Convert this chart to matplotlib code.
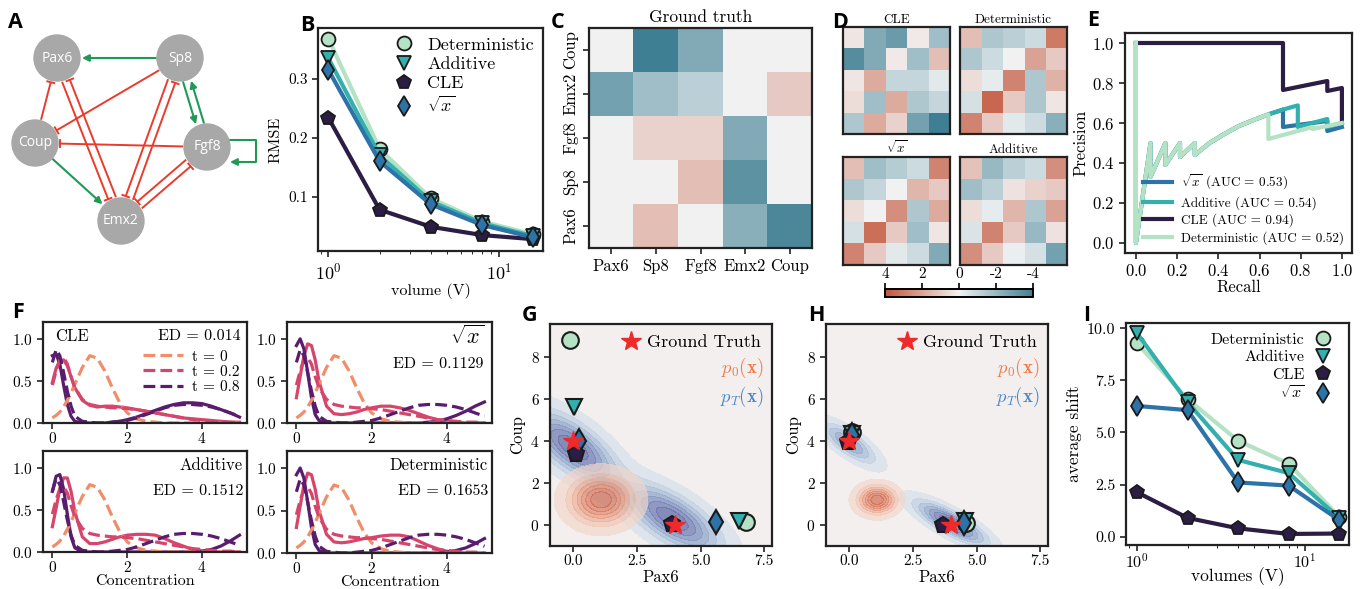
import numpy as np
import matplotlib
matplotlib.use("Agg")
import matplotlib.pyplot as plt
import seaborn as sns
from matplotlib.lines import Line2D

plt.rcParams['font.family'] = 'serif'
plt.rcParams['font.serif'] = ['cmr10']
plt.rcParams['mathtext.fontset'] = 'cm'
plt.rcParams['axes.formatter.use_mathtext'] = True
plt.rcParams['axes.unicode_minus'] = False

W, H = 1365, 589

# ---------------- data ----------------
methods = ['Deterministic', 'Additive', 'CLE', 'sqrt']
labels = {'Deterministic': 'Deterministic', 'Additive': 'Additive', 'CLE': 'CLE', 'sqrt': r'$\sqrt{x}$'}
colors = {'Deterministic': '#b5e2c4', 'Additive': '#33b0ad', 'CLE': '#2c1d45', 'sqrt': '#2d73a8'}
markers = {'Deterministic': 'o', 'Additive': 'v', 'CLE': 'p', 'sqrt': 'd'}

# panel A network
node_names = ['Pax6', 'Sp8', 'Coup', 'Fgf8', 'Emx2']
node_x = [57, 180, 35, 207, 121]
node_y = [58, 58, 143, 147, 221]
act_edges = [('Sp8', 'Pax6', 0), ('Sp8', 'Fgf8', 4), ('Fgf8', 'Sp8', 4), ('Coup', 'Emx2', 0)]
inh_edges = [('Coup', 'Pax6', 0), ('Emx2', 'Pax6', 4), ('Pax6', 'Emx2', 4), ('Sp8', 'Coup', 0),
             ('Fgf8', 'Coup', 0), ('Sp8', 'Emx2', 4), ('Emx2', 'Sp8', 4), ('Fgf8', 'Emx2', 4),
             ('Emx2', 'Fgf8', 4)]

# panel B: RMSE vs volume
volumes = [1, 2, 4, 8, 16]
rmse = {
    'Deterministic': [0.368, 0.181, 0.097, 0.058, 0.036],
    'Additive': [0.335, 0.170, 0.092, 0.055, 0.033],
    'CLE': [0.234, 0.078, 0.049, 0.035, 0.028],
    'sqrt': [0.315, 0.160, 0.087, 0.052, 0.031],
}

# panel C: ground truth interaction matrix (rows bottom->top)
genes = ['Pax6', 'Sp8', 'Fgf8', 'Emx2', 'Coup']
gt_matrix = [
    [0.0, 1.3, 0.0, -2.3, -3.7],
    [0.0, 0.0, 1.3, -3.3, 0.0],
    [0.0, 0.8, 0.8, -2.5, 0.0],
    [-2.8, -1.8, -1.2, 0.0, 1.0],
    [0.0, -4.0, -2.5, 0.0, 0.0],
]

# panel D: inferred matrices (rows top->bottom)
inferred = {
    'CLE': [[0.3, -2.5, -3.0, 0.2, -1.8],
            [-3.5, -2.5, 0.2, -1.8, 1.3],
            [0.3, 1.8, -1.0, -1.0, -0.3],
            [0.5, -1.8, 1.8, -1.5, -1.0],
            [-1.5, 1.8, 0.8, -2.8, -4.0]],
    'Deterministic': [[1.3, -1.5, -1.2, -0.8, 3.0],
                      [-1.5, -0.8, 0.0, 2.0, 1.0],
                      [0.5, -0.2, 2.8, -1.5, 1.6],
                      [-0.6, 3.5, 1.0, -1.5, 0.3],
                      [2.8, 1.0, -0.3, -0.8, -2.3]],
    'sqrt': [[1.3, -1.8, -1.3, -0.8, 2.8],
             [-1.5, -1.0, 0.0, 1.5, 1.0],
             [0.5, 0.0, 2.5, -1.5, 1.8],
             [-0.6, 3.3, 1.0, -1.8, 0.3],
             [2.8, 1.0, -0.3, -0.8, -2.5]],
    'Additive': [[1.2, -2.0, -1.2, -0.8, 2.5],
                 [-1.8, -1.2, 0.4, 0.8, 1.0],
                 [0.5, -0.2, 1.5, -1.5, 2.0],
                 [-0.5, 2.8, 1.0, -2.0, 0.4],
                 [2.5, 1.0, -0.1, -0.6, -2.8]],
}

# panel E: precision-recall curves
pr_recall = {
    'sqrt': [0.0, 0.0, 0.071, 0.071, 0.143, 0.143, 0.214, 0.214, 0.286, 0.286, 0.357, 0.429, 0.5, 0.571,
             0.643, 0.714, 0.714, 0.786, 0.857, 0.929, 0.929, 1.0],
    'Additive': [0.0, 0.0, 0.071, 0.071, 0.143, 0.143, 0.214, 0.214, 0.286, 0.286, 0.357, 0.429, 0.5, 0.571,
                 0.643, 0.714, 0.786, 0.786, 0.857, 0.929, 0.929, 1.0],
    'CLE': [0.0, 0.714, 0.714, 0.929, 0.929, 1.0, 1.0],
    'Deterministic': [0.0, 0.0, 0.071, 0.071, 0.143, 0.143, 0.214, 0.214, 0.286, 0.286, 0.357, 0.429, 0.5,
                      0.571, 0.643, 0.643, 0.714, 0.786, 0.857, 0.857, 0.929, 1.0],
}
pr_precision = {
    'sqrt': [1.0, 0.0, 0.5, 0.33, 0.5, 0.39, 0.5, 0.43, 0.5, 0.44, 0.5, 0.545, 0.585, 0.615,
             0.643, 0.667, 0.58, 0.59, 0.60, 0.61, 0.56, 0.58],
    'Additive': [1.0, 0.0, 0.5, 0.33, 0.5, 0.39, 0.5, 0.43, 0.5, 0.44, 0.5, 0.545, 0.585, 0.615,
                 0.643, 0.667, 0.688, 0.58, 0.60, 0.62, 0.58, 0.60],
    'CLE': [1.0, 1.0, 0.765, 0.81, 0.76, 0.775, 0.60],
    'Deterministic': [1.0, 0.0, 0.5, 0.33, 0.5, 0.39, 0.5, 0.43, 0.5, 0.44, 0.5, 0.545, 0.585, 0.615,
                      0.643, 0.52, 0.54, 0.56, 0.58, 0.57, 0.585, 0.60],
}
pr_auc = {'sqrt': 0.53, 'Additive': 0.54, 'CLE': 0.94, 'Deterministic': 0.52}

# panel F: concentration densities
conc = [0.0, 0.1, 0.2, 0.3, 0.4, 0.5, 0.6, 0.8, 1.0, 1.2, 1.4, 1.6, 1.8, 2.0, 2.25, 2.5, 2.75,
        3.0, 3.25, 3.5, 3.75, 4.0, 4.25, 4.5, 4.75, 5.0]
dens_t0 = [0.06, 0.09, 0.13, 0.19, 0.27, 0.36, 0.46, 0.66, 0.80, 0.77, 0.62, 0.42, 0.24, 0.12, 0.05,
           0.02, 0.01, 0.0, 0.0, 0.0, 0.0, 0.0, 0.0, 0.0, 0.0, 0.0]
dens_t02 = [0.45, 0.62, 0.75, 0.78, 0.70, 0.55, 0.42, 0.28, 0.22, 0.20, 0.19, 0.18, 0.18, 0.17, 0.16,
            0.14, 0.12, 0.10, 0.08, 0.06, 0.04, 0.03, 0.02, 0.01, 0.01, 0.0]
dens_t08 = [0.72, 0.87, 0.80, 0.60, 0.38, 0.20, 0.08, 0.02, 0.01, 0.0, 0.0, 0.01, 0.02, 0.03, 0.06,
            0.10, 0.14, 0.18, 0.21, 0.22, 0.22, 0.21, 0.19, 0.16, 0.12, 0.08]
pred_t02 = {
    'CLE': [0.48, 0.65, 0.74, 0.75, 0.68, 0.55, 0.42, 0.27, 0.21, 0.19, 0.20, 0.20, 0.19, 0.18, 0.16,
            0.14, 0.12, 0.10, 0.08, 0.06, 0.05, 0.04, 0.03, 0.02, 0.01, 0.01],
    'sqrt': [0.30, 0.55, 0.80, 0.94, 0.92, 0.75, 0.50, 0.20, 0.11, 0.10, 0.11, 0.13, 0.16, 0.18, 0.20,
             0.20, 0.18, 0.15, 0.11, 0.07, 0.04, 0.02, 0.01, 0.0, 0.0, 0.0],
    'Additive': [0.30, 0.52, 0.75, 0.88, 0.88, 0.72, 0.48, 0.18, 0.10, 0.10, 0.12, 0.15, 0.18, 0.20, 0.21,
                 0.21, 0.20, 0.16, 0.11, 0.07, 0.03, 0.01, 0.0, 0.0, 0.0, 0.0],
    'Deterministic': [0.30, 0.55, 0.80, 0.94, 0.92, 0.75, 0.50, 0.22, 0.13, 0.12, 0.13, 0.15, 0.17, 0.18,
                      0.20, 0.21, 0.21, 0.19, 0.14, 0.09, 0.05, 0.02, 0.01, 0.0, 0.0, 0.0],
}
pred_t08 = {
    'CLE': [0.80, 0.82, 0.70, 0.45, 0.22, 0.08, 0.02, 0.0, 0.0, 0.0, 0.0, 0.01, 0.02, 0.04, 0.07,
            0.11, 0.15, 0.19, 0.22, 0.24, 0.24, 0.23, 0.20, 0.16, 0.12, 0.07],
    'sqrt': [0.92, 1.0, 0.88, 0.60, 0.30, 0.10, 0.03, 0.0, 0.0, 0.0, 0.0, 0.0, 0.0, 0.0, 0.0,
             0.0, 0.0, 0.0, 0.0, 0.01, 0.02, 0.05, 0.09, 0.14, 0.20, 0.25],
    'Additive': [0.72, 0.90, 0.92, 0.75, 0.45, 0.18, 0.05, 0.0, 0.0, 0.0, 0.0, 0.0, 0.0, 0.0, 0.0,
                 0.0, 0.0, 0.0, 0.0, 0.0, 0.0, 0.01, 0.03, 0.07, 0.13, 0.20],
    'Deterministic': [0.92, 1.0, 0.88, 0.60, 0.30, 0.10, 0.03, 0.0, 0.0, 0.0, 0.0, 0.0, 0.0, 0.0, 0.0,
                      0.0, 0.0, 0.0, 0.0, 0.0, 0.0, 0.01, 0.03, 0.06, 0.11, 0.17],
}
energy_dist = {'CLE': '0.014', 'sqrt': '0.1129', 'Additive': '0.1512', 'Deterministic': '0.1653'}

# panels G/H: fixed points and densities (Pax6, Coup)
gt_pax6 = [0.0, 4.0]
gt_coup = [4.0, 0.0]
g_pax6 = {'Deterministic': [-0.1, 6.8], 'Additive': [0.05, 6.5], 'CLE': [0.1, 3.9], 'sqrt': [0.25, 5.6]}
g_coup = {'Deterministic': [8.8, 0.15], 'Additive': [5.6, 0.2], 'CLE': [3.4, 0.05], 'sqrt': [4.0, 0.15]}
h_pax6 = {'Deterministic': [0.1, 4.6], 'Additive': [0.1, 4.55], 'CLE': [-0.05, 3.7], 'sqrt': [0.1, 4.5]}
h_coup = {'Deterministic': [4.45, 0.1], 'Additive': [4.35, 0.2], 'CLE': [3.95, 0.0], 'sqrt': [4.3, 0.1]}
# gaussian components: mean x, mean y, sd major, sd minor, angle (deg), weight
g_p0 = [(1.1, 1.2, 0.75, 0.7, 0, 1.0)]
g_pT = [(0.0, 3.7, 1.4, 0.6, -45, 0.5), (3.9, 0.3, 1.4, 0.6, -40, 0.5)]
h_p0 = [(1.1, 1.2, 0.45, 0.4, 0, 1.0)]
h_pT = [(0.0, 3.9, 0.85, 0.3, -42, 0.35), (4.0, 0.1, 1.0, 0.3, -35, 0.65)]

# panel I: average shift
shift = {
    'Deterministic': [9.28, 6.6, 4.6, 3.5, 0.95],
    'Additive': [9.76, 6.45, 3.68, 3.05, 0.9],
    'CLE': [2.13, 0.9, 0.4, 0.13, 0.15],
    'sqrt': [6.27, 6.07, 2.6, 2.45, 0.8],
}

# ---------------- helpers ----------------
fig = plt.figure(figsize=(W / 100, H / 100), dpi=100)


def px_axes(l, t, r, b, **kw):
    return fig.add_axes([l / W, 1 - b / H, (r - l) / W, (b - t) / H], **kw)


def style(ax, labelsize=10):
    for s in ax.spines.values():
        s.set_linewidth(1.6)
        s.set_color('#222222')
    ax.tick_params(direction='out', length=4, width=1.2, labelsize=labelsize, color='#222222')


def gauss_mix(xx, yy, comps):
    z = np.zeros_like(xx)
    for mx, my, s1, s2, ang, w in comps:
        a = np.deg2rad(ang)
        dx, dy = xx - mx, yy - my
        u = dx * np.cos(a) + dy * np.sin(a)
        v = -dx * np.sin(a) + dy * np.cos(a)
        z += w * np.exp(-0.5 * ((u / s1) ** 2 + (v / s2) ** 2)) / (s1 * s2)
    return z


def letter(x, y, s):
    fig.text(x / W, 1 - y / H, s, fontsize=15.5, fontweight='bold', family='Open Sans', va='top', ha='left')


cmap = sns.diverging_palette(220, 20, as_cmap=True)
mk = dict(mec='#1a1a1a', mew=1.3)

# ---------------- A: network ----------------
axA = px_axes(0, 0, 260, 290)
axA.set_xlim(0, 260)
axA.set_ylim(290, 0)
axA.axis('off')
R = 23
pos = {n: np.array([x, y], float) for n, x, y in zip(node_names, node_x, node_y)}
green, red = '#1f9a55', '#ec3a2c'


def edge_ends(a, b, off):
    ca, cb = pos[a], pos[b]
    u = (cb - ca) / np.linalg.norm(cb - ca)
    n = np.array([-u[1], u[0]])
    return ca + u * (R + 1) + n * off, cb - u * (R + 2) + n * off, n


for a, b, off in act_edges:
    p0, p1, n = edge_ends(a, b, off)
    axA.annotate('', xy=p1, xytext=p0,
                 arrowprops=dict(arrowstyle='-|>', color=green, lw=1.5, mutation_scale=10,
                                 shrinkA=0, shrinkB=0))
for a, b, off in inh_edges:
    p0, p1, n = edge_ends(a, b, off)
    axA.plot([p0[0], p1[0]], [p0[1], p1[1]], color=red, lw=1.4, solid_capstyle='butt')
    axA.plot([p1[0] - n[0] * 3.5, p1[0] + n[0] * 3.5], [p1[1] - n[1] * 3.5, p1[1] + n[1] * 3.5],
             color=red, lw=1.4)
# Fgf8 self loop
fx, fy = pos['Fgf8']
axA.plot([fx + 22, fx + 49, fx + 49, fx + 35], [fy - 7, fy - 7, fy + 15, fy + 15], color=green, lw=1.5)
axA.annotate('', xy=(fx + 23, fy + 15), xytext=(fx + 36, fy + 15),
             arrowprops=dict(arrowstyle='-|>', color=green, lw=1.5, mutation_scale=10, shrinkA=0, shrinkB=0))
for n in node_names:
    axA.add_patch(plt.Circle(pos[n], R, color='#a8a8a8', zorder=3))
    axA.text(pos[n][0], pos[n][1], n, color='white', ha='center', va='center', fontsize=10,
             family='Open Sans', zorder=4)

# ---------------- B: RMSE ----------------
axB = px_axes(318, 28, 543, 251)
for m in ['Deterministic', 'Additive', 'CLE', 'sqrt']:
    axB.plot(volumes, rmse[m], color=colors[m], lw=3, marker=markers[m], ms=10, mfc=colors[m], **mk)
axB.set_xscale('log')
axB.set_xlim(0.87, 18.2)
axB.set_ylim(0.008, 0.386)
axB.set_yticks([0.1, 0.2, 0.3])
axB.set_yticklabels(['0.1', '0.2', '0.3'])
style(axB, 11)
axB.tick_params(axis='x', labelsize=13)
axB.set_ylabel('RMSE', fontsize=11.5)
axB.set_xlabel('volume (V)', fontsize=11.5, labelpad=1)
hB = [Line2D([], [], ls='none', marker=markers[m], ms=10, mfc=colors[m], **mk) for m in methods]
axB.legend(hB, [labels[m] for m in methods], loc='upper right', frameon=False, fontsize=13,
           handletextpad=0.3, labelspacing=0.2, borderaxespad=0.1)

# ---------------- C: ground truth ----------------
axC = px_axes(589, 28, 812, 248)
axC.imshow(np.array(gt_matrix), cmap=cmap, vmin=-4, vmax=4, origin='lower', aspect='auto')
axC.set_xticks(range(5))
axC.set_xticklabels(genes)
axC.set_yticks(range(5))
axC.set_yticklabels(genes, rotation=90, va='center')
style(axC, 12)
axC.set_title('Ground truth', fontsize=12.5, pad=4)

# ---------------- D: inferred ----------------
d_boxes = {'CLE': (843, 27, 950, 134), 'Deterministic': (960, 27, 1067, 134),
           'sqrt': (843, 157, 950, 265), 'Additive': (960, 157, 1067, 265)}
for m, box in d_boxes.items():
    ax = px_axes(*box)
    im = ax.imshow(np.array(inferred[m]), cmap=cmap, vmin=-4, vmax=4, aspect='auto')
    ax.set_xticks([])
    ax.set_yticks([])
    style(ax)
    ax.set_title(labels[m], fontsize=9.5, pad=3)
cax = px_axes(885, 289, 1033, 297)
cb = fig.colorbar(im, cax=cax, orientation='horizontal')
cax.invert_xaxis()
cax.xaxis.set_ticks_position('top')
cb.set_ticks([4, 2, 0, -2, -4])
cb.set_ticklabels(['4', '2', '0', '-2', '-4'])
cb.outline.set_linewidth(1.4)
cax.tick_params(length=4, width=1.2, labelsize=11, pad=2)

# ---------------- E: precision-recall ----------------
axE = px_axes(1125, 33, 1352, 253)
for m in ['sqrt', 'Additive', 'CLE', 'Deterministic']:
    axE.plot(pr_recall[m], pr_precision[m], color=colors[m], lw=3,
             label=f'{labels[m]} (AUC = {pr_auc[m]:.2f})')
axE.set_xlim(-0.053, 1.049)
axE.set_ylim(-0.05, 1.05)
axE.set_xticks([0, 0.2, 0.4, 0.6, 0.8, 1.0])
axE.set_yticks([0, 0.2, 0.4, 0.6, 0.8, 1.0])
style(axE, 12)
axE.set_xlabel('Recall', fontsize=12, labelpad=0)
axE.set_ylabel('Precision', fontsize=12, labelpad=2)
axE.legend(loc='lower right', frameon=False, fontsize=9.5, handlelength=2.2, labelspacing=0.3,
           borderaxespad=0.2, handletextpad=0.7)

# ---------------- F: densities ----------------
f_boxes = {'CLE': (43, 322, 247, 423), 'sqrt': (287, 322, 492, 423),
           'Additive': (43, 451, 247, 552), 'Deterministic': (287, 451, 492, 553)}
c_t0, c_t02, c_t08 = '#f08e69', '#d6456b', '#5a1d6e'
for m, box in f_boxes.items():
    ax = px_axes(*box)
    ax.plot(conc, pred_t02[m], color=c_t02, lw=2.3)
    ax.plot(conc, pred_t08[m], color=c_t08, lw=2.3)
    ax.plot(conc, dens_t0, color=c_t0, lw=2.3, ls='--', label='t = 0')
    ax.plot(conc, dens_t02, color=c_t02, lw=2.3, ls='--', label='t = 0.2')
    ax.plot(conc, dens_t08, color=c_t08, lw=2.3, ls='--', label='t = 0.8')
    ax.set_xlim(-0.25, 5.2)
    ax.set_ylim(0, 1.2)
    ax.set_xticks([0, 2, 4])
    ax.set_yticks([0, 0.5, 1.0])
    style(ax, 11)
    ax.tick_params(axis='x', pad=2)
    if m == 'CLE':
        ax.text(0.06, 0.93, 'CLE', transform=ax.transAxes, fontsize=12, va='top')
        ax.text(0.97, 0.93, 'ED = ' + energy_dist[m], transform=ax.transAxes, fontsize=11.5,
                va='top', ha='right')
        ax.legend(loc='upper right', bbox_to_anchor=(1.0, 0.8), frameon=False, fontsize=11,
                  handlelength=2.6, labelspacing=0.1, borderaxespad=0.1, handletextpad=0.6)
    elif m == 'sqrt':
        ax.text(0.96, 0.98, labels[m], transform=ax.transAxes, fontsize=16, va='top', ha='right')
        ax.text(0.96, 0.65, 'ED = ' + energy_dist[m], transform=ax.transAxes, fontsize=11.5,
                va='top', ha='right')
    else:
        ax.text(0.98, 0.93, m, transform=ax.transAxes, fontsize=12, va='top', ha='right')
        ax.text(0.98, 0.67, 'ED = ' + energy_dist[m], transform=ax.transAxes, fontsize=11.5,
                va='top', ha='right')
    if m in ('Additive', 'Deterministic'):
        ax.set_xlabel('Concentration', fontsize=11.5, labelpad=-1)

# ---------------- G / H: fixed points ----------------
gx, gy = np.meshgrid(np.linspace(-1, 8, 300), np.linspace(-1.2, 9.8, 300))
blue_cols = ['#d9e2ec', '#c3d1e3', '#abbfd9', '#97acce', '#8597c3', '#7684b8', '#6b74ad']
orange_cols = ['#f4d6c9', '#f1c2ad', '#eca98f', '#e69476', '#df8062', '#d87053', '#cf6246']


def fixed_point_panel(box, p0, pT, px, py):
    ax = px_axes(*box)
    ax.set_facecolor('#f3efee')
    zb = gauss_mix(gx, gy, pT)
    zo = gauss_mix(gx, gy, p0)
    ax.contourf(gx, gy, zb, levels=np.linspace(0.05, 1.0, 8) * zb.max() * 1.001, colors=blue_cols,
                alpha=0.8)
    ax.contourf(gx, gy, zo, levels=np.linspace(0.05, 1.0, 8) * zo.max() * 1.001, colors=orange_cols,
                alpha=0.65)
    for m in ['Deterministic', 'Additive', 'sqrt', 'CLE']:
        ax.plot(px[m], py[m], ls='none', marker=markers[m], ms=12, mfc=colors[m], mec='#1a1a1a', mew=1.5)
    ax.plot(gt_pax6, gt_coup, ls='none', marker='*', ms=15, color='#ee2a2a', label='Ground Truth')
    ax.set_xlim(-0.9, 7.8)
    ax.set_ylim(-1.0, 9.57)
    ax.set_xticks([0, 2.5, 5.0, 7.5])
    ax.set_xticklabels(['0.0', '2.5', '5.0', '7.5'])
    ax.set_yticks([0, 2, 4, 6, 8])
    style(ax, 11)
    ax.tick_params(axis='x', pad=2)
    ax.set_xlabel('Pax6', fontsize=12, labelpad=1)
    ax.set_ylabel('Coup', fontsize=12)
    ax.legend(loc='upper right', frameon=False, fontsize=13, handletextpad=0.3, borderaxespad=0.2,
              handlelength=1.2)
    ax.text(0.96, 0.8, r'$p_0(\mathbf{x})$', transform=ax.transAxes, ha='right', va='center',
            fontsize=13.5, color='#f07c4c')
    ax.text(0.96, 0.67, r'$p_T(\mathbf{x})$', transform=ax.transAxes, ha='right', va='center',
            fontsize=13.5, color='#4a88cc')
    return ax


fixed_point_panel((550, 324, 772, 546), g_p0, g_pT, g_pax6, g_coup)
fixed_point_panel((826, 324, 1048, 546), h_p0, h_pT, h_pax6, h_coup)

# ---------------- I: average shift ----------------
axI = px_axes(1126, 323, 1349, 545)
for m in ['Deterministic', 'Additive', 'sqrt', 'CLE']:
    axI.plot(volumes, shift[m], color=colors[m], lw=3, marker=markers[m], ms=10, mfc=colors[m], **mk)
axI.set_xscale('log')
axI.set_xlim(0.86, 18.3)
axI.set_ylim(-0.4, 10.25)
axI.set_yticks([0, 2.5, 5.0, 7.5, 10.0])
axI.set_yticklabels(['0.0', '2.5', '5.0', '7.5', '10.0'])
style(axI, 11.5)
axI.tick_params(axis='x', pad=1)
axI.set_ylabel('average shift', fontsize=12.5)
axI.set_xlabel('volumes (V)', fontsize=12.5, labelpad=-2)
axI.legend(hB, [labels[m] for m in methods], loc='upper right', frameon=False, fontsize=11.5,
           markerfirst=False, handletextpad=0.2, labelspacing=0.2, borderaxespad=0.2)

# ---------------- letters ----------------
for x, y, s in [(8, 12, 'A'), (300, 15, 'B'), (551, 12, 'C'), (832, 12, 'D'), (1087, 10, 'E'),
                (12, 302, 'F'), (522, 305, 'G'), (808, 305, 'H'), (1083, 305, 'I')]:
    letter(x, y, s)

fig.savefig('out.png', dpi=100)
